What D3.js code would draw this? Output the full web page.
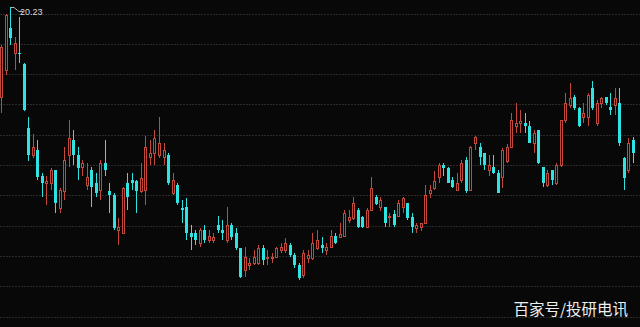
<!DOCTYPE html>
<meta charset="utf-8">
<style>
  html, body {
    margin: 0;
    padding: 0;
    background: #080808;
  }
</style>
<body>
  <div id="chart"></div>
  <script src="https://d3js.org/d3.v7.min.js"></script>
  <script>
    // daily k-line values (index = trading day)
    var opens = [17.23, 18.12, 19.51, 18.68, 18.71, 18.32, 16.21, 15.32, 15.51, 14.65,
      14.39, 14.42, 14.82, 13.57, 14.13, 15.32, 15.81, 15.32, 14.95, 14.33,
      14.82, 14.39, 14.16, 15.08, 14.13, 14.00, 12.84, 12.77, 14.39, 14.49,
      14.46, 14.13, 14.16, 15.25, 15.38, 15.32, 15.25, 15.32, 14.06, 14.33,
      13.57, 13.60, 12.77, 12.74, 12.44, 12.87, 12.51, 12.51, 13.01, 12.84,
      12.51, 13.01, 12.77, 12.25, 11.52, 11.69, 11.75, 11.78, 12.25, 11.92,
      11.92, 11.95, 12.21, 12.18, 12.35, 12.02, 11.69, 11.36, 11.92, 11.92,
      12.25, 12.35, 12.18, 12.28, 12.67, 12.64, 12.67, 13.20, 13.24, 13.53,
      13.27, 12.94, 13.53, 13.96, 13.60, 13.60, 13.27, 13.37, 13.33, 13.60,
      13.73, 13.27, 12.91, 12.97, 13.10, 14.06, 14.23, 14.62, 14.99, 14.89,
      14.49, 14.16, 14.49, 15.18, 14.16, 15.71, 15.61, 15.38, 14.82, 14.95,
      14.72, 14.62, 15.12, 15.58, 16.30, 16.37, 16.37, 16.30, 15.74, 16.14,
      14.92, 14.33, 14.82, 14.39, 14.99, 16.47, 16.97, 17.23, 16.87, 16.57,
      16.57, 17.53, 16.37, 17.06, 17.23, 16.90, 16.97, 17.03, 15.22, 14.82,
      15.84];

    var highs = [18.95, 19.97, 20.23, 19.21, 19.87, 18.38, 16.60, 16.01, 15.84, 14.75,
      14.65, 14.89, 14.85, 14.23, 15.58, 16.47, 16.14, 15.58, 15.15, 15.05,
      14.95, 14.72, 15.15, 15.81, 14.39, 14.06, 13.24, 14.29, 14.72, 14.72,
      14.49, 15.08, 15.97, 15.81, 16.14, 16.57, 15.74, 15.41, 14.72, 14.39,
      13.83, 13.90, 13.01, 12.84, 12.91, 13.01, 12.84, 12.74, 13.33, 13.17,
      13.60, 13.07, 12.91, 12.27, 12.28, 11.92, 12.18, 12.35, 12.35, 12.18,
      12.11, 12.31, 12.41, 12.58, 12.41, 12.08, 11.78, 12.18, 12.18, 12.77,
      12.84, 12.61, 12.41, 12.84, 12.74, 13.07, 13.50, 13.50, 13.96, 13.57,
      13.33, 13.57, 14.59, 14.00, 13.93, 13.63, 13.40, 13.50, 13.83, 13.93,
      13.76, 13.40, 13.07, 13.10, 14.33, 14.33, 14.79, 15.05, 15.05, 14.95,
      14.62, 14.72, 15.15, 15.25, 15.64, 15.97, 15.71, 15.41, 15.32, 15.32,
      14.82, 15.55, 15.68, 16.73, 17.03, 16.83, 16.73, 16.44, 16.14, 16.17,
      14.95, 14.82, 14.85, 15.05, 16.50, 17.39, 17.69, 17.30, 16.90, 17.06,
      17.36, 17.76, 17.13, 17.23, 17.26, 17.36, 17.53, 17.53, 15.25, 15.88,
      15.94];

    var lows = [16.73, 17.96, 18.95, 18.15, 18.38, 16.78, 15.12, 15.22, 14.52, 13.96,
      13.67, 14.16, 13.43, 13.40, 13.83, 14.92, 14.99, 14.49, 14.65, 14.16,
      13.60, 13.93, 13.83, 14.65, 13.40, 12.84, 12.35, 12.74, 13.50, 14.16,
      13.40, 14.09, 13.67, 14.99, 14.99, 15.22, 14.99, 14.33, 14.00, 13.67,
      13.10, 12.51, 12.18, 12.35, 12.28, 12.44, 12.41, 12.44, 12.77, 12.51,
      12.41, 12.51, 12.18, 11.26, 11.29, 11.52, 11.69, 11.69, 11.69, 11.69,
      11.75, 11.92, 12.11, 12.08, 11.95, 11.59, 11.19, 11.26, 11.78, 11.85,
      12.18, 12.08, 12.02, 12.25, 12.38, 12.61, 12.61, 13.10, 13.17, 12.91,
      12.91, 12.91, 13.47, 13.67, 13.47, 12.97, 12.97, 12.97, 13.27, 13.40,
      13.20, 12.74, 12.74, 12.81, 13.07, 13.90, 14.19, 14.39, 14.65, 14.39,
      14.23, 14.13, 14.39, 14.09, 14.13, 15.48, 14.99, 14.85, 14.65, 14.69,
      14.06, 14.23, 15.08, 15.55, 16.04, 16.04, 16.04, 15.71, 15.41, 15.02,
      14.26, 14.26, 14.33, 14.33, 14.95, 16.40, 16.87, 16.80, 16.24, 16.37,
      16.30, 16.80, 16.30, 16.87, 16.97, 16.64, 16.64, 15.64, 14.16, 14.75,
      15.08];

    var closes = [18.88, 19.94, 19.18, 19.04, 18.65, 16.80, 15.32, 15.61, 14.62, 14.42,
      14.46, 14.82, 13.76, 14.16, 15.15, 15.88, 15.32, 14.89, 15.05, 14.62,
      14.29, 14.09, 15.08, 14.82, 14.00, 12.91, 12.94, 14.23, 13.93, 14.39,
      14.13, 14.56, 15.58, 15.38, 15.88, 15.74, 15.48, 14.39, 14.49, 13.73,
      13.50, 12.77, 12.61, 12.51, 12.84, 12.51, 12.67, 12.64, 12.84, 12.74,
      13.01, 12.61, 12.25, 11.29, 11.95, 11.78, 11.95, 12.25, 11.85, 11.95,
      11.98, 12.25, 12.31, 12.41, 12.02, 11.69, 11.26, 12.08, 12.02, 12.44,
      12.51, 12.25, 12.28, 12.67, 12.41, 12.71, 13.40, 13.30, 13.73, 12.94,
      12.94, 13.50, 14.23, 13.70, 13.83, 13.07, 13.33, 13.01, 13.76, 13.90,
      13.24, 12.94, 13.01, 13.07, 14.00, 14.19, 14.46, 14.99, 14.89, 14.42,
      14.26, 14.42, 15.08, 14.13, 15.58, 15.91, 15.28, 14.99, 14.99, 14.72,
      14.09, 15.48, 15.58, 16.47, 16.40, 16.44, 16.30, 15.74, 16.07, 15.05,
      14.39, 14.72, 14.49, 14.99, 16.47, 17.06, 17.20, 16.87, 16.30, 16.70,
      17.30, 16.87, 17.06, 17.20, 17.03, 16.80, 17.20, 15.71, 14.56, 15.74,
      15.38];

    // price grid levels
    var gridPrices = [20, 19, 18, 17, 16, 15, 14, 13, 12, 11, 10];

    var watermark = "百家号/投研电讯";

    var width = 640,
      height = 327;

    var upColor = "#c4493c",
      downColor = "#2fe3e3";

    var data = opens.map(function(o, i) {
      return { i: i, open: o, high: highs[i], low: lows[i], close: closes[i] };
    });

    var x = d3.scaleLinear()
      .domain([0, data.length - 1])
      .range([1, 633]);

    var y = d3.scaleLinear()
      .domain([10, 20])
      .range([316.5, 13.5]);

    var svg = d3.select("#chart")
      .append("svg")
      .attr("width", width)
      .attr("height", height)
      .style("display", "block")
      .style("background", "#080808");

    // dotted price grid
    svg.append("g")
      .selectAll("line")
      .data(gridPrices)
      .enter()
      .append("line")
      .attr("x1", 0)
      .attr("x2", width)
      .attr("y1", function(d) { return Math.round(y(d)) + 0.5; })
      .attr("y2", function(d) { return Math.round(y(d)) + 0.5; })
      .attr("stroke", "#2a2a2a")
      .attr("stroke-dasharray", "2,1");

    var py = function(v) { return Math.round(y(v)); };
    var cx = function(d) { return Math.round(x(d.i)); };

    var candles = svg.append("g")
      .selectAll("g")
      .data(data)
      .enter()
      .append("g");

    // upper shadow
    candles.append("line")
      .attr("x1", function(d) { return cx(d) + 0.5; })
      .attr("x2", function(d) { return cx(d) + 0.5; })
      .attr("y1", function(d) { return py(d.high); })
      .attr("y2", function(d) { return py(Math.max(d.open, d.close)); })
      .attr("stroke", function(d) { return d.close >= d.open ? upColor : downColor; });

    // lower shadow
    candles.append("line")
      .attr("x1", function(d) { return cx(d) + 0.5; })
      .attr("x2", function(d) { return cx(d) + 0.5; })
      .attr("y1", function(d) { return py(Math.min(d.open, d.close)); })
      .attr("y2", function(d) { return py(d.low); })
      .attr("stroke", function(d) { return d.close >= d.open ? upColor : downColor; });

    // up days: hollow red body
    candles.filter(function(d) { return d.close >= d.open; })
      .append("rect")
      .attr("x", function(d) { return cx(d) - 0.5; })
      .attr("y", function(d) { return py(d.close) + 0.5; })
      .attr("width", 2)
      .attr("height", function(d) { return Math.max(1, py(d.open) - py(d.close)); })
      .attr("fill", "#080808")
      .attr("stroke", upColor);

    // down days: solid cyan body
    candles.filter(function(d) { return d.close < d.open; })
      .append("rect")
      .attr("x", function(d) { return cx(d) - 1; })
      .attr("y", function(d) { return py(d.open); })
      .attr("width", 3)
      .attr("height", function(d) { return Math.max(1, py(d.close) - py(d.open)); })
      .attr("fill", downColor);

    // highest price marker
    var peak = data[d3.maxIndex(data, function(d) { return d.high; })];
    var tx = cx(peak), ty = py(peak.high);
    svg.append("path")
      .attr("d", "M" + (tx + 1) + "," + (ty + 0.5) + "h3l5,4h4")
      .attr("fill", "none")
      .attr("stroke", "#dddddd")
      .attr("stroke-width", 0.8);
    svg.append("text")
      .attr("x", tx + 10)
      .attr("y", ty + 8)
      .attr("fill", "#dddddd")
      .style("font", "9px 'Liberation Sans', sans-serif")
      .text(d3.format(".2f")(peak.high));

    // watermark
    svg.append("text")
      .attr("x", 628)
      .attr("y", 315)
      .attr("text-anchor", "end")
      .attr("fill", "#eeeeee")
      .style("font", "15.5px 'Noto Sans CJK SC', sans-serif")
      .text(watermark);
  </script>
</body>
